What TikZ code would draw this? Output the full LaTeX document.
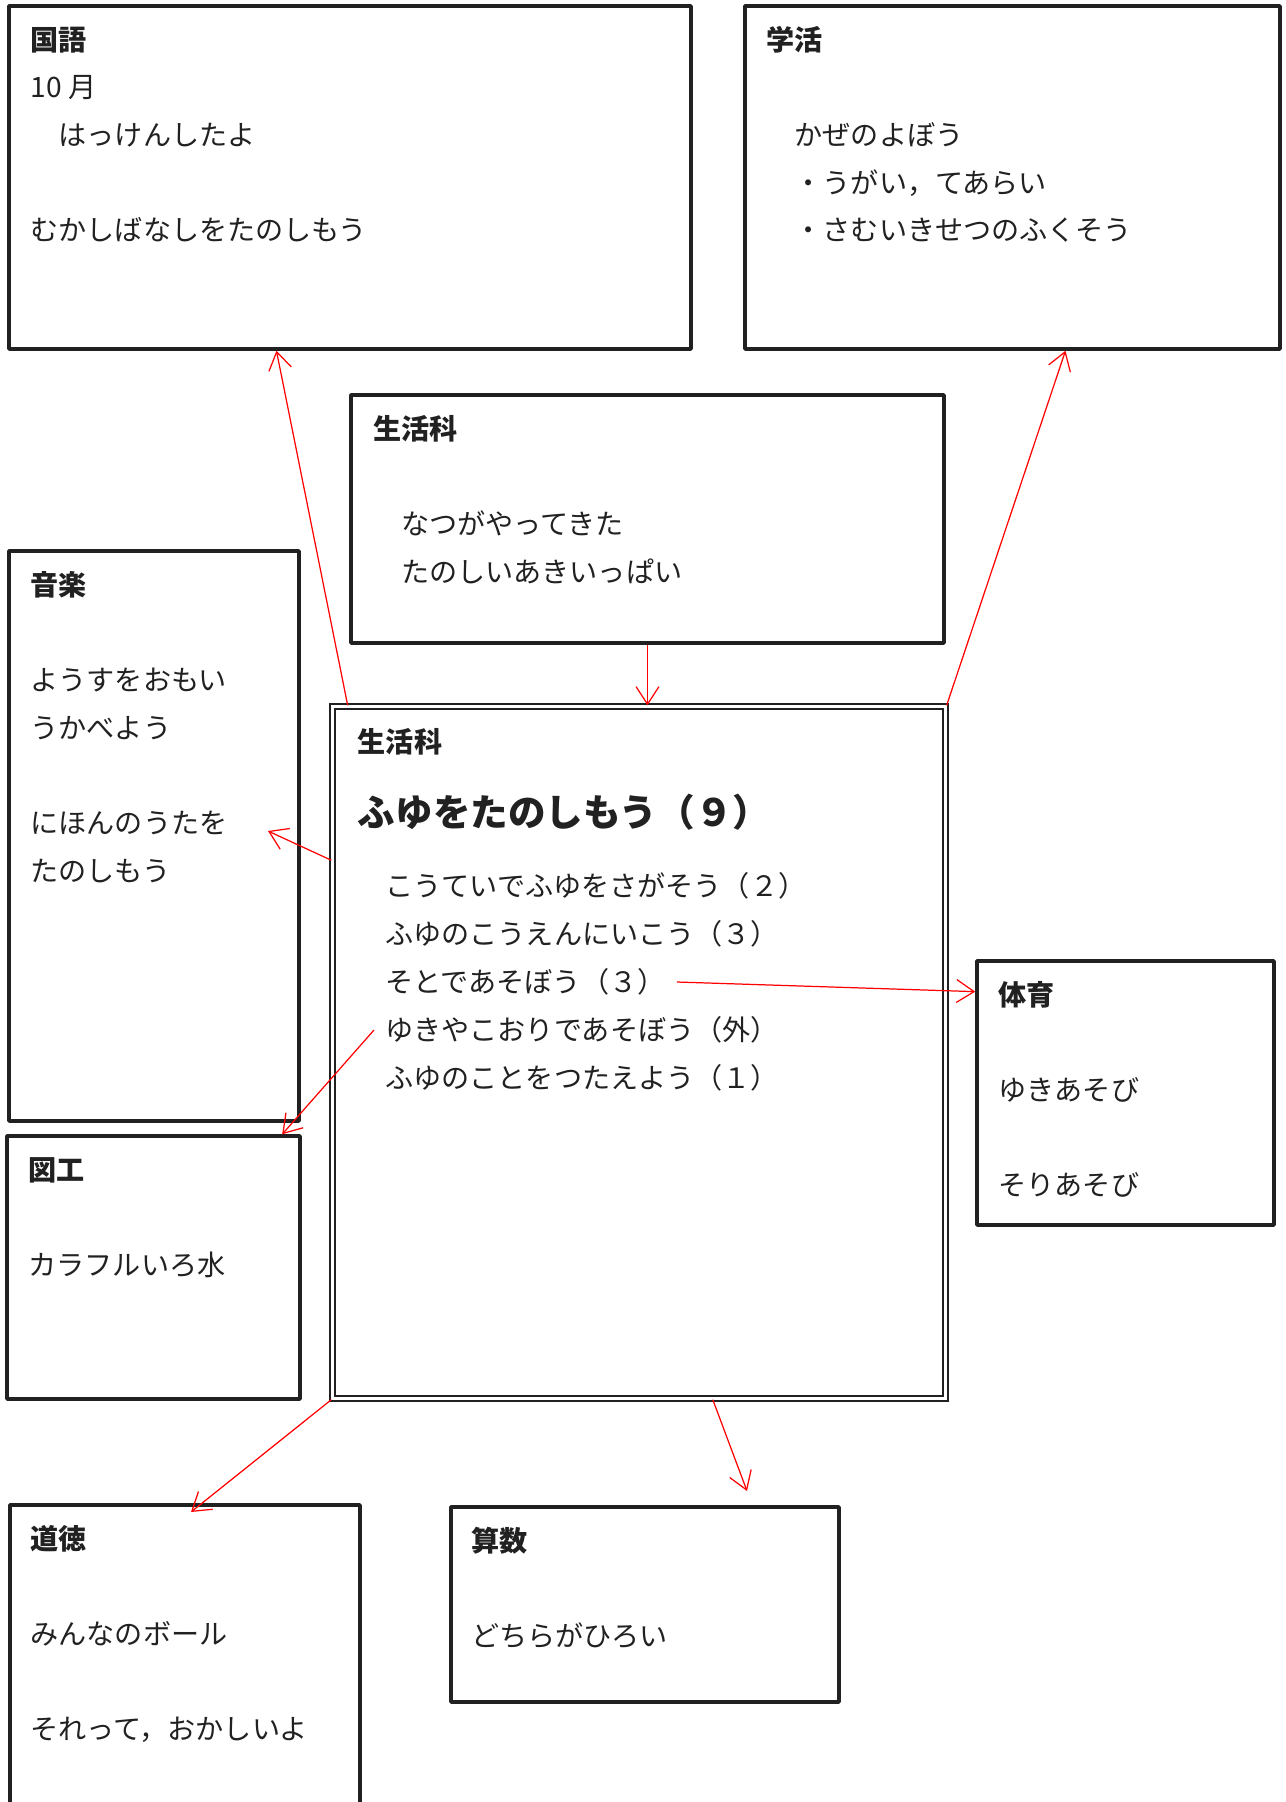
\documentclass[tikz,border=0pt]{standalone}
\usepackage{fontspec}
\setmainfont{Noto Sans CJK JP}
\usetikzlibrary{positioning,fit,arrows.meta}

\tikzset{
  box/.style={draw=black!87, line width=2pt, line join=round, inner sep=0pt},
  mainbox/.style={draw=black!87, double, double distance=1.5pt, line width=1.3pt, inner sep=0pt},
  boxtext/.style={align=left, inner sep=0pt, anchor=north west, text=black!87,
    font=\fontsize{16pt}{27.1pt}\selectfont},
  item/.style={inner xsep=6.3pt, inner ysep=0pt, text height=14pt, text depth=1.9pt,
    anchor=west, text=black!87, font=\fontsize{16pt}{27.1pt}\selectfont},
  link/.style={draw=red, line width=0.7pt, -{Straight Barb[length=10pt,width=13pt]}},
}
\newcommand{\topline}{\rule{0pt}{24pt}}

\begin{document}
\begin{tikzpicture}[x=0.02cm, y=-0.02cm]
  \useasboundingbox (0,0) rectangle (1285,1802);

  % Boxes
  \node[box, fit={(9,6) (691,349)}] (kokugo) {};
  \node[box, fit={(745,6) (1280,349)}] (gakkatsu) {};
  \node[box, fit={(351,395) (944,643)}] (seikatsu) {};
  \node[box, fit={(9,551) (299,1121)}] (ongaku) {};
  \node[box, fit={(7,1136) (300,1399)}] (zuko) {};
  \node[mainbox, fit={(332.5,706.5) (945.5,1398.5)}] (main) {};
  \node[box, fit={(977,961) (1274,1225)}] (taiiku) {};
  \node[box, fit={(10,1505) (360,1850)}] (dotoku) {};
  \node[box, fit={(451,1507) (839,1702)}] (sansu) {};

  % Texts
  \node[boxtext, below right=0.07cm and 0.46cm of kokugo.north west] (kokugotext)
    {\textbf{国語}\topline\\10 月\\　はっけんしたよ\\[27.1pt]むかしばなしをたのしもう};
  \node[boxtext, below right=0.07cm and 0.46cm of gakkatsu.north west] (gakkatsutext)
    {\textbf{学活}\topline\\[27.1pt]　かぜのよぼう\\　・うがい，てあらい\\　・さむいきせつのふくそう};
  \node[boxtext, below right=0.08cm and 0.47cm of seikatsu.north west] (seikatsutext)
    {\textbf{生活科}\topline\\[27.1pt]　なつがやってきた\\　たのしいあきいっぱい};
  \node[boxtext, below right=0.08cm and 0.46cm of ongaku.north west] (ongakutext)
    {\textbf{音楽}\topline\\[27.1pt]ようすをおもい\\うかべよう\\[27.1pt]にほんのうたを\\たのしもう};
  \node[boxtext, below right=0.07cm and 0.46cm of zuko.north west] (zukotext)
    {\textbf{図工}\topline\\[27.1pt]カラフルいろ水};
  \node[boxtext, below right=0.07cm and 0.46cm of taiiku.north west] (taiikutext)
    {\textbf{体育}\topline\\[27.1pt]ゆきあそび\\[27.1pt]そりあそび};
  \node[boxtext, below right=0.07cm and 0.44cm of dotoku.north west] (dotokutext)
    {\textbf{道徳}\topline\\[27.1pt]みんなのボール\\[27.1pt]それって，おかしいよ};
  \node[boxtext, below right=0.07cm and 0.43cm of sansu.north west] (sansutext)
    {\textbf{算数}\topline\\[27.1pt]どちらがひろい};

  % Main unit
  \node[item, inner xsep=0pt, font=\bfseries\fontsize{16pt}{27.1pt}\selectfont] (maintitle) at (357.5,742) {生活科};
  \node[item, inner xsep=0pt, text height=19pt, text depth=2.6pt,
    font=\bfseries\fontsize{21.4pt}{27pt}\selectfont] (mainhead) at (357.5,812) {ふゆをたのしもう（９）};
  \foreach \t [count=\i] in {こうていでふゆをさがそう（２）, ふゆのこうえんにいこう（３）,
      そとであそぼう（３）, ゆきやこおりであそぼう（外）, ふゆのことをつたえよう（１）}
    \node[item] (item\i) at (374,{838+48*\i}) {\t};

  % Connectors
  \coordinate (ongakutip) at (268,831);
  \coordinate (dotokutip) at (191,1512);
  \coordinate (sansutip) at (747,1491);
  \draw[link] (main.130) -- (kokugo.247.3);
  \draw[link] (main.north east) -- (gakkatsu.287.6);
  \draw[link] (seikatsu.south) -- (seikatsu.south |- main.north);
  \draw[link] (main.148) -- (ongakutip);
  \draw[link] (item4.west) -- (zuko.46.1);
  \draw[link] (item3.east) -- (taiiku.146.6);
  \draw[link] (main.south west) -- (dotokutip);
  \draw[link] (main.282.4) -- (sansutip);
\end{tikzpicture}
\end{document}
